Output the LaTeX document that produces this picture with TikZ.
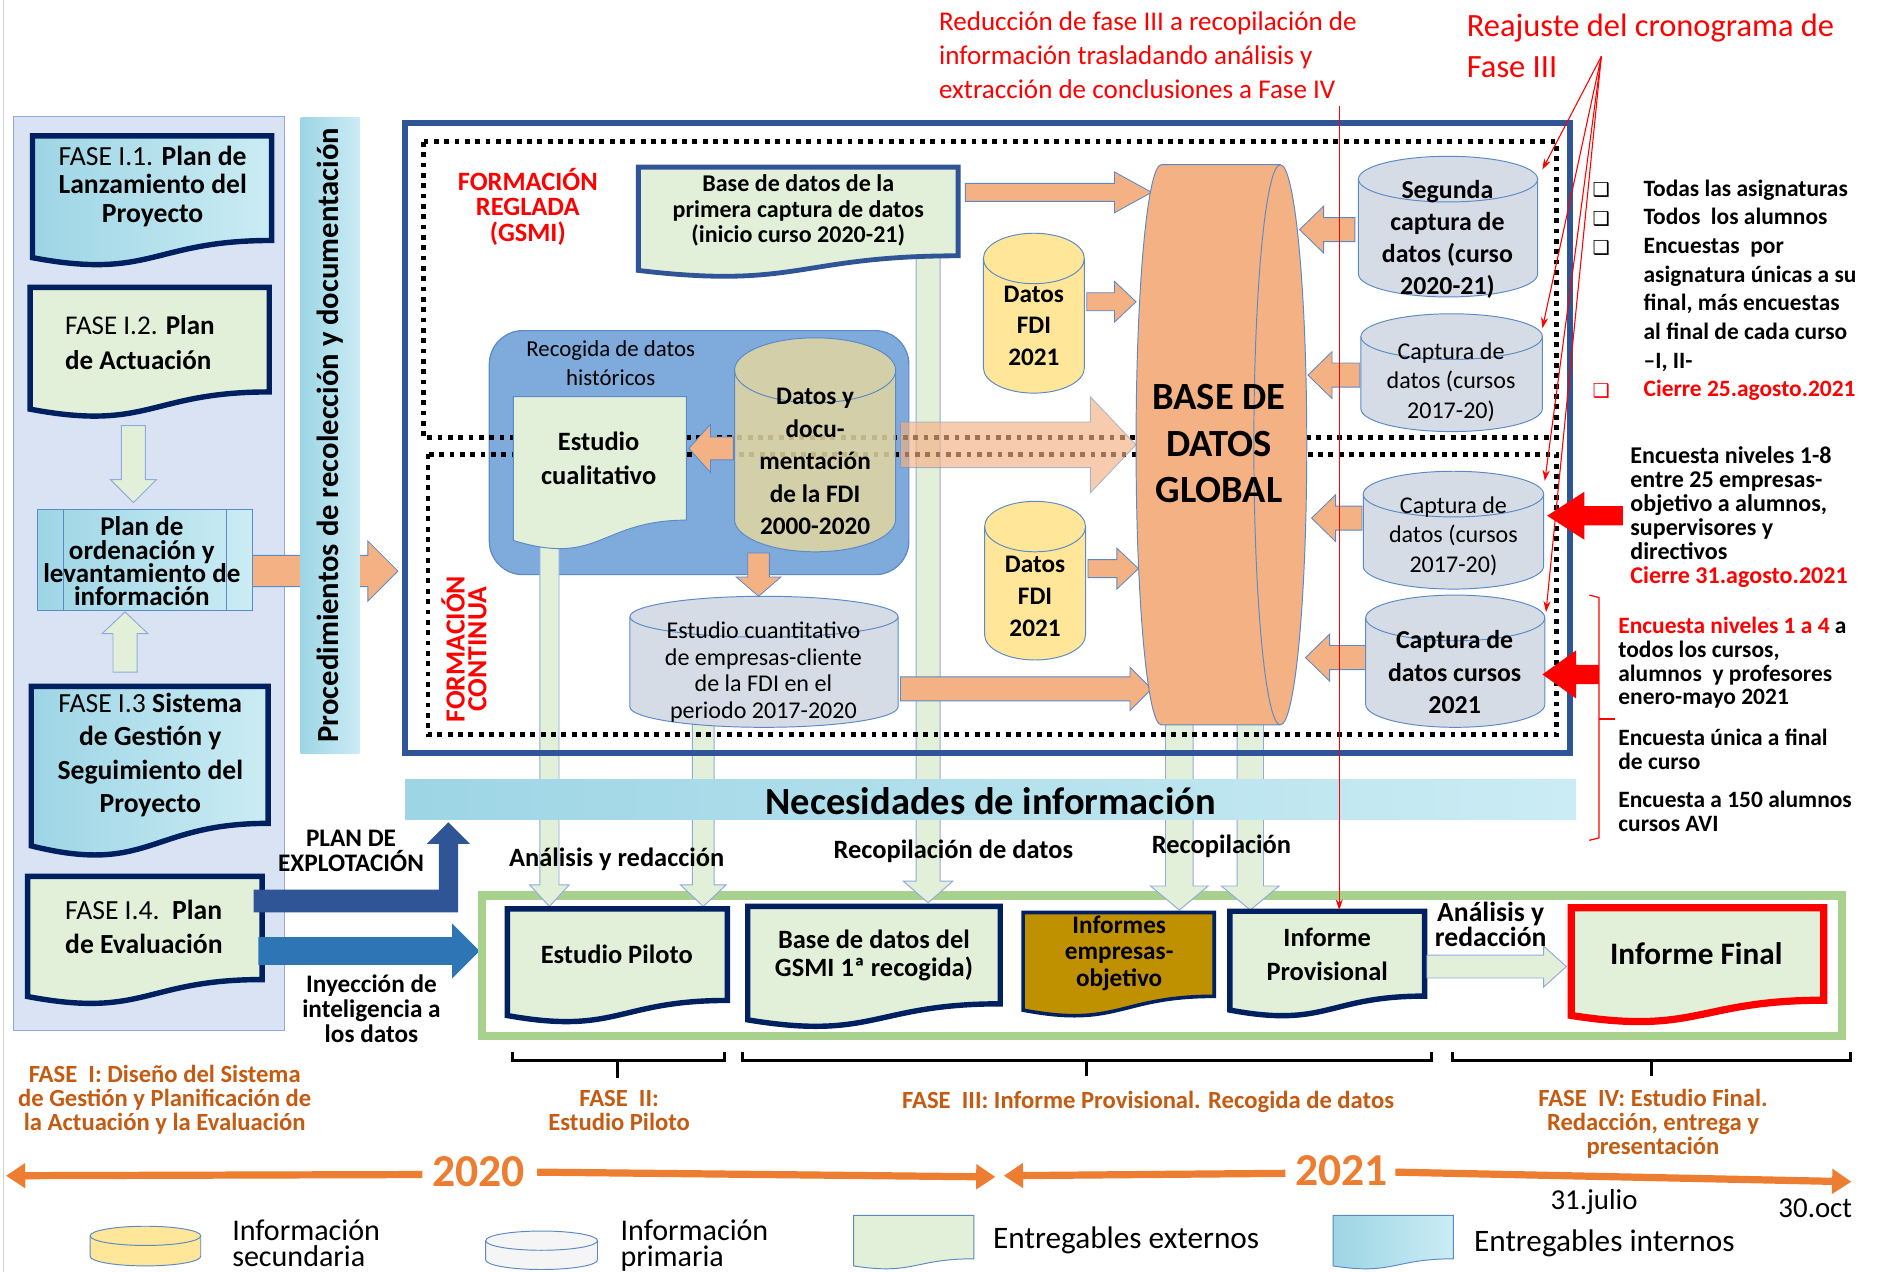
\documentclass[tikz,border=0pt]{standalone}
\usepackage{fontspec}
\setmainfont{Carlito}
\newfontfamily\symfont{DejaVu Sans}
\usetikzlibrary{arrows.meta}
\definecolor{navy}{HTML}{002060}
\definecolor{frameblue}{HTML}{2F5597}
\definecolor{lgreen}{HTML}{E2F0D9}
\definecolor{panel}{HTML}{DAE3F3}
\definecolor{panelline}{HTML}{8FAADC}
\definecolor{waterA}{HTML}{9DD5E5}
\definecolor{waterB}{HTML}{CBECF4}
\definecolor{orangeL}{HTML}{F4B183}
\definecolor{yellowC}{HTML}{FFE699}
\definecolor{grayC}{HTML}{D6DCE5}
\definecolor{tanC}{HTML}{E3D6A0}
\definecolor{recog}{HTML}{7EAADC}
\definecolor{gold}{HTML}{BF9000}
\definecolor{gframe}{HTML}{A9D18E}
\definecolor{phase}{HTML}{C55A11}
\definecolor{tline}{HTML}{ED7D31}
\definecolor{outl}{HTML}{5B8AC6}
\definecolor{injblue}{HTML}{2E75B6}
\newcommand\fsz[2]{\fontsize{#1}{#2}\selectfont}
\newcommand\docpath[4]{(#1,#2) -- (#3,#2) -- (#3,{#2+0.802*(#4-#2)}) .. controls ({(#1+#3)/2},{#2+0.802*(#4-#2)}) and ({(#1+#3)/2},{#2+1.107*(#4-#2)}) .. (#1,{#2+0.934*(#4-#2)}) -- cycle}
\newcommand\cyl[6]{%
 \pgfmathsetmacro\crx{(#3-#1)/2}%
 \path[#6] (#1,{#2+#5}) -- (#1,{#4-#5}) arc[start angle=180,end angle=360,x radius=\crx pt,y radius=#5pt] -- (#3,{#2+#5}) arc[start angle=0,end angle=180,x radius=\crx pt,y radius=#5pt] -- cycle;
 \path[#6,fill=none] (#1,{#2+#5}) arc[start angle=180,end angle=360,x radius=\crx pt,y radius=#5pt];}
\newcommand\harrow[7]{%
 \pgfmathsetmacro\hb{#2>#1 ? #2-#6 : #2+#6}%
 \path[#7] (#1,{#3-#4}) -- (\hb,{#3-#4}) -- (\hb,{#3-#5}) -- (#2,#3) -- (\hb,{#3+#5}) -- (\hb,{#3+#4}) -- (#1,{#3+#4}) -- cycle;}
\newcommand\varrow[7]{%
 \pgfmathsetmacro\vb{#3>#2 ? #3-#6 : #3+#6}%
 \path[#7] ({#1-#4},#2) -- ({#1-#4},\vb) -- ({#1-#5},\vb) -- (#1,#3) -- ({#1+#5},\vb) -- ({#1+#4},\vb) -- ({#1+#4},#2) -- cycle;}
\begin{document}
\begin{tikzpicture}[x=1pt,y=-1pt,
 t/.style={inner sep=0pt, align=center},
 water/.style={left color=waterA, right color=waterB},
 navydoc/.style={draw=navy, line width=4.5pt, fill=lgreen},
 waterdoc/.style={draw=navy, line width=4.5pt, water},
 orarrow/.style={fill=orangeL, draw=outl, line width=0.7pt},
 garrow/.style={fill=lgreen, draw=panelline, line width=0.8pt},
 graycyl/.style={fill=grayC, draw=outl, line width=0.8pt},
 yelcyl/.style={fill=yellowC, draw=outl, line width=0.8pt},
 dotl/.style={draw=black, line width=4pt, dash pattern=on 4pt off 4.6pt},
 redthin/.style={draw=red, line width=0.9pt, -{Stealth[length=9pt,width=6pt]}},
 tl/.style={draw=tline, line width=6pt, -{Triangle[length=16pt,width=20pt]}},
 brk/.style={draw=black, line width=2.5pt}]
\path[use as bounding box, fill=white] (0,0) rectangle (1568,1058);
\draw[gray!35, line width=1pt] (3,0) -- (3,1058);

% ---------- left panel ----------
\path[fill=panel, draw=panelline, line width=0.8pt] (11,97) rectangle (237,857);
\harrow{210}{331}{475}{13}{25}{25}{orarrow}
\path[water] (250,98) rectangle (299,627);
\node[t, rotate=90, font=\fsz{25.5}{28}\bfseries] (proc) at (274.5,362) {Procedimientos de recolección y documentación};

\draw[waterdoc] \docpath{27}{113}{226}{221.5};
\node[t, font=\fsz{23}{23.5}] (f11) at (127,155) {FASE I.1. \textbf{Plan de}\\\textbf{Lanzamiento del}\\\textbf{Proyecto}};
\draw[navydoc] \docpath{25}{239}{224}{347.5};
\node[t, align=left, anchor=west, font=\fsz{22.5}{29}] (f12) at (54,285) {FASE I.2. \textbf{Plan}\\\textbf{de Actuación}};
\varrow{111}{354}{418}{10}{19}{19}{garrow}
\path[water, draw=outl, line width=0.8pt] (31,424) rectangle (210,508);
\draw[outl, line width=0.8pt] (53,424) -- (53,508) (188,424) -- (188,508);
\node[t, font=\fsz{22.5}{19.5}\bfseries] (plan) at (118,467) {Plan de\\ordenación y\\levantamiento de\\información};
\varrow{104}{559}{509}{10}{19}{18}{garrow}
\draw[waterdoc] \docpath{26}{571}{223}{713};
\node[t, font=\fsz{23}{28}] (f13) at (125,628) {FASE I.3 \textbf{Sistema}\\\textbf{de Gestión y}\\\textbf{Seguimiento del}\\\textbf{Proyecto}};
\draw[navydoc] \docpath{23}{729}{218}{836};
\node[t, align=left, anchor=west, font=\fsz{23}{28}] (f14) at (54,771) {FASE I.4.\ \ \textbf{Plan}\\\textbf{de Evaluación}};

% plan de explotacion / inyeccion arrows
\path[fill=frameblue] (211,740) -- (365,740) -- (365,702) -- (355,702) -- (373,684) -- (391,702) -- (381,702) -- (381,759) -- (211,759) -- cycle;
\node[t, font=\fsz{21}{21}\bfseries] (pex) at (292,708) {PLAN DE\\EXPLOTACIÓN};
\harrow{215}{399}{791}{11.5}{23}{23}{fill=injblue}
\node[t, font=\fsz{21}{21}\bfseries] (iny) at (309,839) {Inyección de\\inteligencia a\\los datos};

% ---------- central block ----------
\path[fill=recog, draw=outl, line width=1pt, rounded corners=28pt] (407,275) rectangle (756,478);
\draw[gframe, line width=7pt] (401,745) rectangle (1532,862);
\varrow{457}{455}{754}{8}{16.5}{18}{garrow}
\varrow{585}{600}{754}{9}{19}{18}{garrow}
\varrow{772}{213}{751}{10}{20.5}{18}{garrow}
\varrow{981}{600}{757}{11.5}{24}{20}{garrow}
\varrow{1040}{600}{757}{11}{24}{20}{garrow}
\draw[dotl] (352,118) rectangle (1295,364);
\draw[dotl] (356,378) rectangle (1295,611);
\draw[frameblue, line width=5pt] (337,102) rectangle (1306,626);
\path[water] (337,648) rectangle (1311,682);
\node[t, font=\fsz{32}{34}\bfseries] (nec) at (824,666) {Necesidades de información};

\node[t, text=red, font=\fsz{22}{21.5}\bfseries] (freg) at (439,172) {FORMACIÓN\\REGLADA\\(GSMI)};
\node[t, rotate=90, text=red, font=\fsz{23}{18}\bfseries] (fcon) at (386,540) {FORMACIÓN\\CONTINUA};

\node[t, font=\fsz{19}{24}] (recn) at (508,302) {Recogida de datos\\históricos};
\draw[fill=lgreen, draw=outl, line width=0.8pt] \docpath{427}{330}{571}{458};
\node[t, font=\fsz{22}{28}\bfseries] (cual) at (498,381) {Estudio\\cualitativo};
\cyl{611}{281}{745}{459}{27}{fill=tanC, fill opacity=0.85, draw=outl, line width=0.8pt}
\node[t, font=\fsz{21}{27}\bfseries] (datos) at (678,384) {Datos y\\docu-\\mentación\\de la FDI\\2000-2020};
\harrow{610}{573}{373}{9.5}{20}{18}{orarrow}
\varrow{631}{460}{496}{9}{18.5}{16}{orarrow}
\cyl{524}{496}{747}{605}{17}{graycyl}
\node[t, font=\fsz{20}{22}] (cuant) at (635,559) {Estudio cuantitativo\\de empresas-cliente\\de la FDI en el\\periodo 2017-2020};

\draw[fill=lgreen, draw=frameblue, line width=4pt] \docpath{531}{139}{797}{231};
\node[t, font=\fsz{20}{21}\bfseries] (bd1) at (664,175) {Base de datos de la\\primera captura de datos\\(inicio curso 2020-21)};

\harrow{803}{958}{160}{7.5}{17}{31}{orarrow}
\harrow{904}{945}{251}{7.5}{17}{18}{orarrow}
\harrow{905}{947}{473}{7.5}{17}{18}{orarrow}
\harrow{749}{958}{573}{10}{18}{18}{orarrow}
\harrow{749}{945}{370}{19}{40}{38}{fill=orangeL, fill opacity=0.65, draw=outl, draw opacity=0.5, line width=0.7pt}

\cyl{818}{194}{902}{327}{21}{yelcyl}
\node[t, font=\fsz{21}{26.5}\bfseries] (fdi1) at (860,271) {Datos\\FDI\\2021};
\cyl{819}{417}{903}{549}{21}{yelcyl}
\node[t, font=\fsz{21}{26.5}\bfseries] (fdi2) at (861,496) {Datos\\FDI\\2021};

\path[fill=orangeL, draw=outl, line width=0.8pt] (966,137) -- (1065,137) arc[start angle=90,end angle=-90,x radius=22pt,y radius=233pt] -- (966,603) arc[start angle=270,end angle=90,x radius=21pt,y radius=233pt] -- cycle;
\draw[outl, line width=0.8pt] (1065,137) arc[start angle=90,end angle=270,x radius=22pt,y radius=233pt];
\node[t, font=\fsz{32}{39}\bfseries] (base) at (1014,369) {BASE DE\\DATOS\\GLOBAL};

\harrow{1127}{1081}{191}{10}{19.5}{20}{orarrow}
\harrow{1131}{1088}{312}{10}{19.5}{20}{orarrow}
\harrow{1133}{1091}{431}{10}{19.5}{20}{orarrow}
\harrow{1136}{1086}{547}{10}{19.5}{20}{orarrow}
\cyl{1130}{130}{1279}{247}{19}{graycyl}
\node[t, font=\fsz{21.5}{26.7}\bfseries] (seg) at (1204,199) {Segunda\\captura de\\datos (curso\\2020-21)};
\cyl{1132}{261}{1283}{359}{19}{graycyl}
\node[t, font=\fsz{20}{24.5}] (cap1) at (1207,318) {Captura de\\datos (cursos\\2017-20)};
\cyl{1134}{392}{1284}{490}{19}{graycyl}
\node[t, font=\fsz{20}{24.5}] (cap2) at (1209,446) {Captura de\\datos (cursos\\2017-20)};
\cyl{1136}{495}{1285}{605}{19}{graycyl}
\node[t, font=\fsz{21.5}{27}\bfseries] (cap3) at (1210,559) {Captura de\\datos cursos\\2021};

% ---------- bottom deliverables ----------
\node[t, font=\fsz{22}{24}\bfseries] (lab1) at (513,715) {Análisis y redacción};
\node[t, font=\fsz{22}{24}\bfseries] (lab2) at (793,708) {Recopilación de datos};
\node[t, font=\fsz{22}{24}\bfseries] (lab3) at (1016,704) {Recopilación};

\draw[navydoc] \docpath{422}{756}{605}{851};
\node[t, font=\fsz{22}{24}\bfseries] (piloto) at (513,794) {Estudio Piloto};
\draw[navydoc] \docpath{622}{754}{832}{855};
\node[t, font=\fsz{22}{23}\bfseries] (gsmi) at (727,795) {Base de datos del\\GSMI 1ª recogida)};
\draw[fill=gold, draw=navy, line width=3pt] \docpath{851}{759}{1010}{846};
\node[t, font=\fsz{21}{22}\bfseries] (emp) at (931,793) {Informes\\empresas-\\objetivo};
\draw[navydoc] \docpath{1023}{758}{1185}{846};
\node[t, font=\fsz{22}{28}\bfseries] (prov) at (1104,794) {Informe\\Provisional};
\harrow{1187}{1303}{804}{9.5}{17}{19}{garrow}
\node[t, font=\fsz{23}{20.5}\bfseries] (ayr) at (1240,769) {Análisis y\\redacción};
\draw[fill=lgreen, draw=red, line width=6pt] \docpath{1307}{755}{1517}{851};
\node[t, font=\fsz{26}{28}\bfseries] (final) at (1411,793) {Informe Final};

% brackets
\draw[brk] (426,875) -- (426,882) -- (603,882) -- (603,875);
\draw[brk] (514,882) -- (514,897);
\draw[brk] (618,875) -- (618,882) -- (1191,882) -- (1191,875);
\draw[brk] (904,882) -- (904,895);
\draw[brk] (1208,875) -- (1208,882) -- (1539,882) -- (1539,875);
\draw[brk] (1374,882) -- (1374,895);

% phase texts
\node[t, text=phase, font=\fsz{20.5}{20}\bfseries] (ph1) at (137,915) {FASE\ \ I: Diseño del Sistema\\de Gestión y Planificación de\\la Actuación y la Evaluación};
\node[t, text=phase, font=\fsz{20.5}{20}\bfseries] (ph2) at (515,924) {FASE\ \ II:\\Estudio Piloto};
\node[t, text=phase, font=\fsz{20.5}{20}\bfseries] (ph3) at (955,917) {FASE\ \ III: Informe Provisional. Recogida de datos};
\node[t, text=phase, font=\fsz{20.5}{20}\bfseries] (ph4) at (1375,935) {FASE\ \ IV: Estudio Final.\\Redacción, entrega y\\presentación};

% timeline
\node[t, text=tline, font=\fsz{38}{40}\bfseries] (y20) at (398,975) {2020};
\node[t, text=tline, font=\fsz{38}{40}\bfseries] (y21) at (1116,974) {2021};
\draw[tl] (y20.west) ++(-8,2) -- (5,978);
\draw[tl] (y20.east) ++(10,0) -- (828,979);
\draw[tl] (y21.west) ++(-8,2) -- (835,978);
\draw[tl] (y21.east) ++(6,1) -- (1540,983);
\node[t, font=\fsz{24}{26}] (jul) at (1326,1000) {31.julio};
\node[t, font=\fsz{24}{26}] (oct) at (1510,1005) {30.oct};

% legend
\cyl{75}{1020}{167}{1053}{8}{yelcyl}
\node[t, anchor=west, align=left, font=\fsz{25}{22}] (lg1) at (193,1034) {Información\\secundaria};
\cyl{404}{1024}{497}{1056}{8}{fill=gray!8, draw=outl, line width=0.8pt}
\node[t, anchor=west, align=left, font=\fsz{25}{22}] (lg2) at (516,1036) {Información\\primaria};
\draw[fill=lgreen, draw=outl, line width=0.8pt] \docpath{710}{1011}{810}{1056};
\node[t, anchor=west, font=\fsz{26}{28}] (lg3) at (826,1032) {Entregables externos};
\draw[water, draw=outl, line width=0.8pt] \docpath{1109}{1011}{1209}{1056};
\node[t, anchor=west, font=\fsz{26}{28}] (lg4) at (1226,1034) {Entregables internos};

% ---------- right annotations ----------
\node[t, anchor=west, align=left, font=\fsz{19.5}{23.86}\bfseries] (chk) at (1367,241.5) {Todas las asignaturas\\Todos\ \ los alumnos\\Encuestas\ \ por\\asignatura únicas a su\\final, más encuestas\\al final de cada curso\\–I, II-\\\textcolor{red}{Cierre 25.agosto.2021}};
\node[t, font=\fsz{16}{18}\symfont] (cb1) at (1332,158) {❑};
\node[t, font=\fsz{16}{18}\symfont] (cb2) at (1332,182) {❑};
\node[t, font=\fsz{16}{18}\symfont] (cb3) at (1332,206) {❑};
\node[t, text=red, font=\fsz{16}{18}\symfont] (cb4) at (1332,325) {❑};
\node[t, anchor=west, align=left, font=\fsz{20}{20}\bfseries] (enc18) at (1356,430) {Encuesta niveles 1-8\\entre 25 empresas-\\objetivo a alumnos,\\supervisores y\\directivos\\\textcolor{red}{Cierre 31.agosto.2021}};
\node[t, anchor=west, align=left, font=\fsz{19.5}{19.7}\bfseries] (enc14) at (1346,551.5) {\textcolor{red}{Encuesta niveles 1 a 4} a\\todos los cursos,\\alumnos\ \ y profesores\\enero-mayo 2021};
\node[t, anchor=west, align=left, font=\fsz{19.5}{20}\bfseries] (encu) at (1346,623) {Encuesta única a final\\de curso};
\node[t, anchor=west, align=left, font=\fsz{19.5}{20}\bfseries] (enc150) at (1346,675) {Encuesta a 150 alumnos\\cursos AVI};
\draw[red, line width=1pt] (1322,495) -- (1330,497) -- (1330,697) -- (1322,699);
\draw[red, line width=1pt] (1330,598) -- (1343,598);
\harrow{1350}{1287}{429}{8}{20}{31}{fill=red}
\harrow{1330}{1283}{561}{8}{20}{28}{fill=red}

\node[t, anchor=west, align=left, text=red, font=\fsz{22.5}{28}] (redu) at (781,46) {Reducción de fase III a recopilación de\\información trasladando análisis y\\extracción de conclusiones a Fase IV};
\node[t, anchor=west, align=left, text=red, font=\fsz{27}{34}] (reaj) at (1220,38) {Reajuste del cronograma de\\Fase III};
\coordinate (redtop) at (1114,88);
\coordinate (redbot) at (1114,757);
\draw[redthin] (redtop) -- (redbot);
\coordinate (rjo) at (1332,47);
\draw[redthin] (rjo) -- (1283,141);
\draw[redthin] (rjo) -- (1283,273);
\draw[redthin] (rjo) -- (1285,400);
\draw[redthin] (rjo) -- (1286,509);
\end{tikzpicture}
\end{document}
